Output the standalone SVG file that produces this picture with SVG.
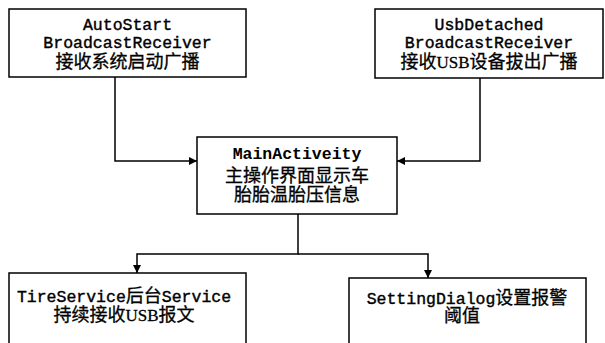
<svg xmlns="http://www.w3.org/2000/svg" width="605" height="343" viewBox="0 0 605 343">
<defs>
<marker id="arr" viewBox="0 0 10 10" refX="10" refY="5" markerWidth="8" markerHeight="8" markerUnits="userSpaceOnUse" orient="auto">
<path d="M0,0 L10,5 L0,10 z" fill="#000"/>
</marker>
<style>
.box{fill:#fff;stroke:#000;stroke-width:1.5}
.t{font-family:"Liberation Mono","Noto Sans CJK SC",monospace;font-size:16.5px;fill:#000;stroke:#000;stroke-width:0.4;text-anchor:middle}
.b{font-weight:bold;stroke-width:0}
.c{font-family:"Noto Sans CJK SC","Liberation Serif",serif;font-size:18px;stroke-width:0.3}
.w{font-family:"Liberation Serif","Noto Sans CJK SC",serif;font-size:17px}
.ln{fill:none;stroke:#000;stroke-width:1.5}
</style>
</defs>
<rect width="605" height="343" fill="#fff"/>
<g id="connectors">
<path class="ln" d="M115,77 V161 H197" marker-end="url(#arr)"/>
<path class="ln" d="M480,78 V161 H397" marker-end="url(#arr)"/>
<path class="ln" d="M298,214 V254 H137 V273" marker-end="url(#arr)"/>
<path class="ln" d="M298,254 H428 V278" marker-end="url(#arr)"/>
</g>
<g id="autostart">
<rect class="box" x="9" y="9" width="237" height="68"/>
<text class="t" x="127.5" y="30">AutoStart</text>
<text class="t" x="127.5" y="48">BroadcastReceiver</text>
<text class="t c" x="127.5" y="68">接收系统启动广播</text>
</g>
<g id="usbdetached">
<rect class="box" x="375" y="9" width="228" height="69"/>
<text class="t" x="489" y="30">UsbDetached</text>
<text class="t" x="489" y="48">BroadcastReceiver</text>
<text class="t c" x="489" y="68">接收<tspan class="w">USB</tspan>设备拔出广播</text>
</g>
<g id="main">
<rect class="box" x="197" y="137" width="200" height="77"/>
<text class="t b" x="297" y="159">MainActiveity</text>
<text class="t c" x="297" y="182">主操作界面显示车</text>
<text class="t c" x="297" y="201">胎胎温胎压信息</text>
</g>
<g id="tireservice">
<rect class="box" x="9" y="273" width="237" height="80"/>
<text class="t" x="124" y="302">TireService<tspan class="c">后台</tspan>Service</text>
<text class="t c" x="124" y="321">持续接收<tspan class="w">USB</tspan>报文</text>
</g>
<g id="settingdialog">
<rect class="box" x="349" y="278" width="237" height="75"/>
<text class="t" x="467" y="304">SettingDialog<tspan class="c">设置报警</tspan></text>
<text class="t c" x="462" y="322">阈值</text>
</g>
</svg>
